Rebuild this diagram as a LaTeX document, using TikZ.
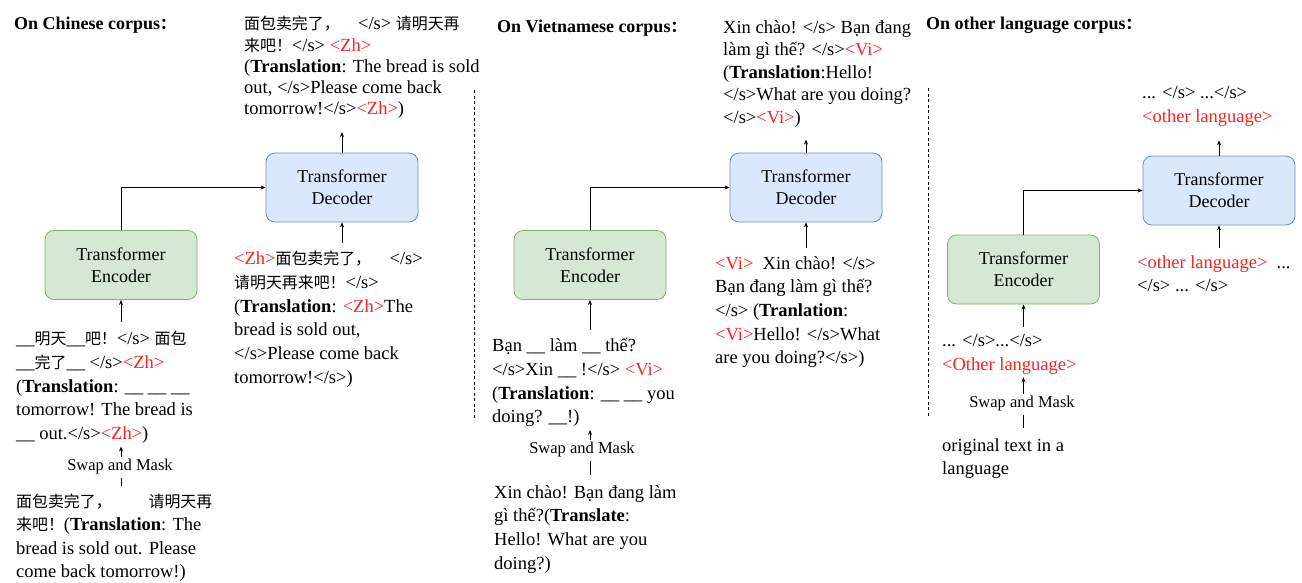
\documentclass[tikz,border=0pt]{standalone}
\usepackage{fontspec}
\setmainfont{Liberation Serif}
\newfontfamily\cjk{Noto Sans CJK SC}[Scale=0.86]
\usetikzlibrary{arrows.meta}
\usetikzlibrary{calc}

\definecolor{encfill}{HTML}{D5E8D4}
\definecolor{encline}{HTML}{82B366}
\definecolor{decfill}{HTML}{DAE8FC}
\definecolor{decline}{HTML}{6C8EBF}
\definecolor{tagred}{HTML}{FF2020}
\newcommand{\tg}[1]{\textcolor{tagred}{#1}}
\newcommand{\zh}[1]{{\cjk #1}}

\begin{document}
\begin{tikzpicture}[x=1pt, y=-1pt,
	box/.style={draw, rounded corners=9pt, minimum width=152pt, minimum height=69pt, align=center, line width=0.8pt, font=\fontsize{18}{22}\selectfont},
	enc/.style={box, fill=encfill, draw=encline},
	dec/.style={box, fill=decfill, draw=decline},
	txt/.style={anchor=north west, inner sep=0pt, align=left, font=\fontsize{18.5}{23.7}\selectfont},
	lbl/.style={inner sep=1pt, font=\fontsize{16.5}{18}\selectfont},
	ttl/.style={anchor=west, inner sep=0pt, font=\bfseries\fontsize{18}{22}\selectfont},
	arr/.style={-{Stealth[length=5pt,width=4pt]}, line width=0.7pt}]
	\useasboundingbox (0,0) rectangle (1302,582);

	% panel titles
	\node[ttl] (ttlZh) at (14,25) {On Chinese corpus\zh{：}};
	\node[ttl] (ttlVi) at (497,28) {On Vietnamese corpus\zh{：}};
	\node[ttl] (ttlOt) at (926,25) {On other language corpus\zh{：}};
	\foreach \x/\a/\b in {474/90/420, 928/88/417}
		\draw[line width=1pt, dash pattern=on 3pt off 2.5pt] (\x,\a) -- (\x,\b);

	% Chinese
	\node[dec] (decZh) at (342,187.5) {Transformer\\Decoder};
	\node[enc] (encZh) at (121,265) {Transformer\\Encoder};
	\node[txt, font=\fontsize{18.5}{21.3}\selectfont] (outZh) at (244,16) {\zh{面包卖完了，}\quad </s> \zh{请明天再}\\
		\zh{来吧！}</s> \tg{<Zh>}\\
		(\textbf{Translation}: The bread is sold\\
		out, </s>Please come back\\
		tomorrow!</s>\tg{<Zh>})};
	\node[txt] (inDecZh) at (234,251) {\tg{<Zh>}\zh{面包卖完了，}\quad </s>\\
		\zh{请明天再来吧！}</s>\\
		(\textbf{Translation}: \tg{<Zh>}The\\
		bread is sold out,\\
		</s>Please come back\\
		tomorrow!</s>)};
	\node[txt] (inEncZh) at (16,331) {\_\_\zh{明天}\_\_\zh{吧！}</s> \zh{面包}\\
		\_\_\zh{完了}\_\_ </s>\tg{<Zh>}\\
		(\textbf{Translation}: \_\_ \_\_ \_\_\\
		tomorrow! The bread is\\
		\_\_ out.</s>\tg{<Zh>})};
	\node[lbl] (swapZh) at (120,467) {Swap and Mask};
	\node[txt, font=\fontsize{18.5}{23.2}\selectfont] (origZh) at (16,494) {\zh{面包卖完了，}\qquad\zh{请明天再}\\
		\zh{来吧！}(\textbf{Translation}: The\\
		bread is sold out. Please\\
		come back tomorrow!)};

	\draw[arr] (encZh.north) |- (decZh.west);
	\draw[arr, shorten >=13pt] (decZh.north) -- (decZh.north |- outZh.south);
	\draw[arr, shorten <=8pt] (decZh.south |- inDecZh.north) -- (decZh.south);
	\draw[arr, shorten <=9pt] (encZh.south |- inEncZh.north) -- (encZh.south);
	\draw[arr, shorten <=1pt, shorten >=3pt] (encZh.south |- swapZh.north) -- (encZh.south |- inEncZh.south);
	\draw[line width=0.7pt, shorten <=2pt, shorten >=8pt] (encZh.south |- swapZh.south) -- (encZh.south |- origZh.north);

	% Vietnamese
	\node[dec] (decVi) at (806,187.5) {Transformer\\Decoder};
	\node[enc] (encVi) at (590,265) {Transformer\\Encoder};
	\node[txt, font=\fontsize{18.5}{22.6}\selectfont] (outVi) at (723,20) {Xin chào! </s> Bạn đang\\
		làm gì thế? </s>\tg{<Vi>}\\
		(\textbf{Translation}:Hello!\\
		</s>What are you doing?\\
		</s>\tg{<Vi>})};
	\node[txt] (inDecVi) at (715,256) {\tg{<Vi>}\ \ Xin chào! </s>\\
		Bạn đang làm gì thế?\\
		</s> (\textbf{Tranlation}:\\
		\tg{<Vi>}Hello! </s>What\\
		are you doing?</s>)};
	\node[txt] (inEncVi) at (492,338) {Bạn \_\_ làm \_\_ thế?\\
		</s>Xin \_\_ !</s> \tg{<Vi>}\\
		(\textbf{Translation}: \_\_ \_\_ you\\
		doing? \_\_!)};
	\node[lbl] (swapVi) at (582,450) {Swap and Mask};
	\node[txt] (origVi) at (494,485) {Xin chào! Bạn đang làm\\
		gì thế?(\textbf{Translate}:\\
		Hello! What are you\\
		doing?)};

	\draw[arr] (encVi.north) |- (decVi.west);
	\draw[arr, shorten >=12pt] (decVi.north) -- (decVi.north |- outVi.south);
	\draw[arr, shorten <=8pt] (decVi.south |- inDecVi.north) -- (decVi.south);
	\draw[arr, shorten <=8pt] (encVi.south |- inEncVi.north) -- (encVi.south);
	\draw[arr, shorten <=1pt, shorten >=3pt] (encVi.south |- swapVi.north) -- (encVi.south |- inEncVi.south);
	\draw[line width=0.7pt, shorten <=2pt, shorten >=10pt] (encVi.south |- swapVi.south) -- (encVi.south |- origVi.north);

	% other language
	\node[dec] (decOt) at (1219,190.5) {Transformer\\Decoder};
	\node[enc] (encOt) at (1023.5,269.5) {Transformer\\Encoder};
	\node[txt] (outOt) at (1142,86) {... </s> ...</s>\\
		\tg{<other language>}};
	\node[txt] (inDecOt) at (1137,255) {\tg{<other language>}\ \ ...\\
		</s> ... </s>};
	\node[txt] (inEncOt) at (942,334) {... </s>...</s>\\
		\tg{<Other language>}};
	\node[lbl] (swapOt) at (1022,404) {Swap and Mask};
	\node[txt] (origOt) at (942,438) {original text in a\\
		language};

	\draw[arr] (encOt.north) |- (decOt.west);
	\draw[arr, shorten >=14pt] (decOt.north) -- (decOt.north |- outOt.south);
	\draw[arr, shorten <=7pt] (decOt.south |- inDecOt.north) -- (decOt.south);
	\draw[arr, shorten <=7pt] (encOt.south |- inEncOt.north) -- (encOt.south);
	\draw[arr, shorten <=1pt, shorten >=3pt] (encOt.south |- swapOt.north) -- (encOt.south |- inEncOt.south);
	\draw[line width=0.7pt, shorten <=2pt, shorten >=10pt] (encOt.south |- swapOt.south) -- (encOt.south |- origOt.north);
\end{tikzpicture}
\end{document}
